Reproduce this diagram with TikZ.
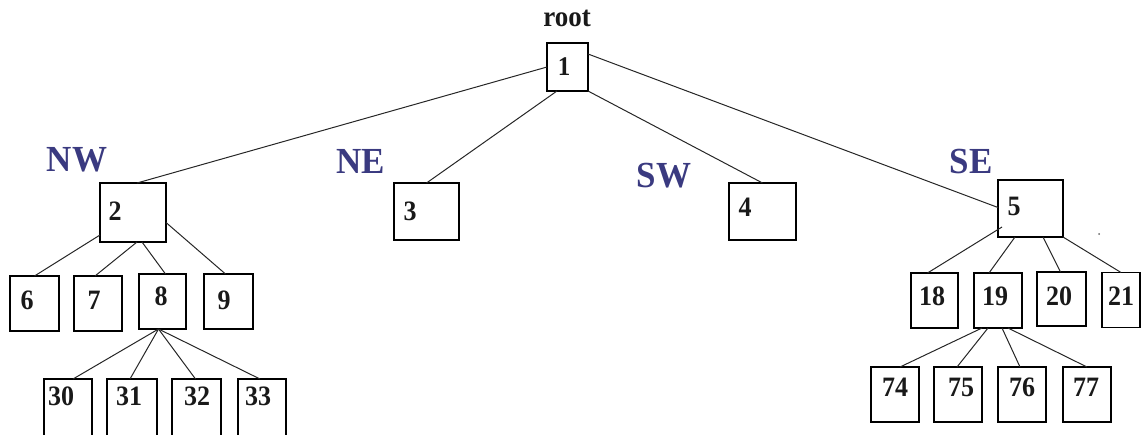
\documentclass[tikz,border=0pt]{standalone}
\usepackage{fontspec}
\setmainfont{Liberation Serif}
\usetikzlibrary{calc}
\definecolor{quadblue}{RGB}{58,58,128}
\tikzset{
  box/.style={draw=black, line width=1.2pt, rectangle, inner sep=0pt, outer sep=0pt, fill=none},
  num/.style={font=\bfseries\fontsize{26}{26}\selectfont, inner sep=0pt, text=black!90, yscale=1.08},
  quad/.style={font=\bfseries\fontsize{35}{35}\selectfont, inner sep=0pt, text=quadblue, yscale=1.05},
  edge/.style={draw=black!85, line width=1pt},
}
\newcommand{\treebox}[5]{% name, x, y, width, height
  \node[box, minimum width=#4pt, minimum height=#5pt] (#1) at (#2,#3) {};}
\begin{document}
\begin{tikzpicture}[x=1pt, y=-1pt]
\useasboundingbox (0,0) rectangle (1141,434);

% boxes
\treebox{b1}{567.5}{67}{41}{48}
\treebox{b2}{133}{212.5}{66}{59}
\treebox{b3}{426.5}{211.5}{65}{57}
\treebox{b4}{762.5}{211.5}{67}{57}
\treebox{b5}{1030.5}{208.5}{65}{57}
\treebox{b6}{34.5}{303.5}{49}{55}
\treebox{b7}{98}{303.5}{48}{55}
\treebox{b8}{162.5}{301.5}{47}{55}
\treebox{b9}{228.5}{301.5}{49}{55}
\treebox{b30}{68}{409}{48}{60}
\treebox{b31}{132}{409}{50}{60}
\treebox{b32}{196.5}{409}{49}{60}
\treebox{b33}{262}{409}{48}{60}
\treebox{b18}{934.5}{300.5}{47}{55}
\treebox{b19}{998}{300.5}{48}{55}
\treebox{b20}{1061.5}{299}{49}{54}
\treebox{b21}{1121}{300}{38}{55}
\treebox{b74}{895}{394.5}{48}{55}
\treebox{b75}{958}{394.5}{48}{55}
\treebox{b76}{1022}{394.5}{48}{55}
\treebox{b77}{1087}{394.5}{48}{55}

% numbers
\node[num, font=\bfseries\fontsize{25}{25}\selectfont] (t1) at (564,67) {1};
\node[num] (t2) at (115,211) {2};
\node[num] (t3) at (410,211) {3};
\node[num] (t4) at (745,207) {4};
\node[num] (t5) at (1014,206) {5};
\node[num] (t6) at (27,300) {6};
\node[num] (t7) at (94,300) {7};
\node[num] (t8) at (161,296) {8};
\node[num] (t9) at (224,300) {9};
\node[num] (t30) at (61,396) {30};
\node[num] (t31) at (129,396) {31};
\node[num] (t32) at (197,396) {32};
\node[num] (t33) at (258,396) {33};
\node[num] (t18) at (932,296) {18};
\node[num] (t19) at (995,296) {19};
\node[num] (t20) at (1059,296) {20};
\node[num] (t21) at (1121,296) {21};
\node[num] (t74) at (895,387) {74};
\node[num] (t75) at (961,387) {75};
\node[num] (t76) at (1022,387) {76};
\node[num] (t77) at (1086,387) {77};

% labels
\node[num, font=\bfseries\fontsize{27}{27}\selectfont] (troot) at (567,18) {root};
\node[quad] (tnw) at (77,160) {NW};
\node[quad] (tne) at (361,161) {NE};
\node[quad] (tsw) at (664,176) {SW};
\node[quad] (tse) at (971,162) {SE};

% root edges
\draw[edge] (b1.west) -- ($(b2.north)+(4,0)$);
\draw[edge] ($(b1.south west)+(10,0)$) -- (b3.north);
\draw[edge] (b1.south east) -- (b4.north);
\draw[edge] ($(b1.north east)+(0,11)$) -- ($(b5.west)+(0,-1)$);

% NW subtree
\draw[edge] ($(b2.south west)+(0,-7)$) -- (b6.north);
\draw[edge] ($(b2.south)+(4,0)$) -- ($(b7.north)+(-3,0)$);
\draw[edge] ($(b2.south)+(9,0)$) -- ($(b8.north)+(3,0)$);
\draw[edge] ($(b2.east)+(0,10)$) -- ($(b9.north)+(-3,0)$);
\draw[edge] ($(b8.south)+(-4,0)$) -- ($(b30.north)+(5,0)$);
\draw[edge] ($(b8.south)+(-4,0)$) -- ($(b31.north)+(-2,0)$);
\draw[edge] ($(b8.south)+(-4,0)$) -- ($(b32.north)+(-1,0)$);
\draw[edge] ($(b8.south)+(-4,0)$) -- ($(b33.north)+(-2,0)$);

% SE subtree
\draw[edge] ($(b5.south west)+(4,-10)$) -- ($(b18.north)+(-7,0)$);
\draw[edge] ($(b5.south west)+(17,0)$) -- ($(b19.north)+(-9,0)$);
\draw[edge] ($(b5.south west)+(45,0)$) -- ($(b20.north)+(-1,0)$);
\draw[edge] (b5.south east) -- (b21.north);
\draw[edge] ($(b19.south)+(-16,0)$) -- ($(b74.north)+(5,0)$);
\draw[edge] ($(b19.south)+(-10,0)$) -- ($(b75.north)+(-1,0)$);
\draw[edge] ($(b19.south)+(4,0)$) -- ($(b76.north)+(-2,0)$);
\draw[edge] ($(b19.south)+(10,0)$) -- (b77.north);

% speck right of box 5
\fill[black!60] (1099,234) circle (1pt);
\end{tikzpicture}
\end{document}
